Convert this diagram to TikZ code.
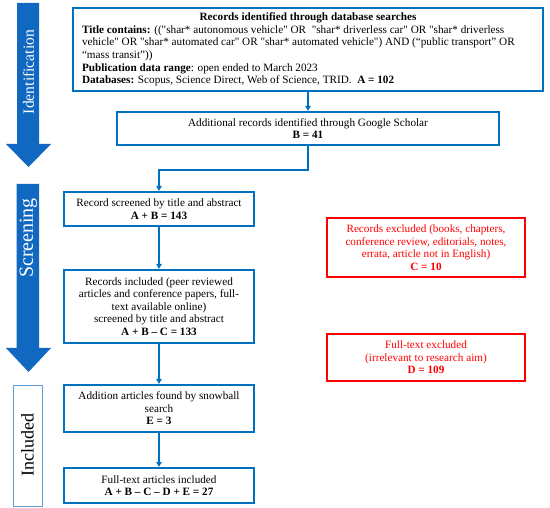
\documentclass[tikz,border=0pt]{standalone}
\usepackage{fontspec}
\setmainfont{Liberation Serif}
\usetikzlibrary{arrows.meta}
\definecolor{mblue}{HTML}{0070C0}
\definecolor{bigblue}{HTML}{1168C0}
\definecolor{lblue}{HTML}{5B9BD5}
\definecolor{mred}{HTML}{FF0000}
\begin{document}
\begin{tikzpicture}[x=1pt,y=-1pt,
  txt/.style={font=\fontsize{11.2}{12.6}\selectfont},
  box/.style={txt, draw=mblue, line width=2.2pt, align=center, inner sep=0pt},
  redbox/.style={txt, draw=mred, line width=2.2pt, text=mred, align=center, inner sep=0pt},
  conn/.style={mblue, line width=1.7pt, -{Triangle[width=5.5pt,length=5pt]}},
  bigarrow/.style={fill=bigblue},
  sidelabel/.style={rotate=90, font=\fontsize{15.6}{18}\selectfont}]
\useasboundingbox (0,0) rectangle (550,508);

% big side arrows
\fill[bigarrow] (17,3) -- (39,3) -- (39,144) -- (51,144) -- (28.5,167) -- (6,144) -- (17,144) -- cycle;
\node[sidelabel, text=white] (idlab) at (28.5,72) {Identification};
\fill[bigarrow] (16.5,184) -- (39,184) -- (39,348) -- (51,348) -- (28.5,372) -- (6,348) -- (16.5,348) -- cycle;
\node[sidelabel, text=white, font=\fontsize{20}{22}\selectfont] (scrlab) at (28.5,238) {Screening};
\node[draw=lblue, line width=0.9pt, minimum width=29pt, minimum height=121pt, inner sep=0pt] (inclbox) at (27.5,445.5) {};
\node[sidelabel, font=\fontsize{18}{20}\selectfont] (incl) at (27.5,445) {Included};

% boxes
\node[box, minimum width=470pt, minimum height=83pt] (top) at (308,49.5) {%
\begin{minipage}{452pt}\raggedright
\makebox[452pt]{\textbf{Records identified through database searches}}\\
\textbf{Title contains:} ((\textquotedbl shar* autonomous vehicle\textquotedbl\ OR \ \textquotedbl shar* driverless car\textquotedbl\ OR \textquotedbl shar* driverless\\
vehicle\textquotedbl\ OR \textquotedbl shar* automated car\textquotedbl\ OR \textquotedbl shar* automated vehicle\textquotedbl) AND (“public transport” OR\\
“mass transit”))\\
\textbf{Publication data range}: open ended to March 2023\\
\textbf{Databases:} Scopus, Science Direct, Web of Science, TRID.\ \ \textbf{A = 102}
\end{minipage}};

\node[box, minimum width=382pt, minimum height=33pt] (B) at (308,128.5) {Additional records identified through Google Scholar\\\textbf{B = 41}};

\node[box, minimum width=190pt, minimum height=34pt] (C) at (159,209) {Record screened by title and abstract\\\textbf{A + B = 143}};

\node[box, minimum width=190pt, minimum height=73pt] (D) at (159,306.5) {Records included (peer reviewed\\articles and conference papers, full-\\text available online)\\screened by title and abstract\\\textbf{A + B – C = 133}};

\node[box, minimum width=190pt, minimum height=47pt] (E) at (159,408.5) {Addition articles found by snowball\\search\\\textbf{E = 3}};

\node[box, minimum width=190pt, minimum height=35pt] (F) at (159,485.5) {Full-text articles included\\\textbf{A + B – C – D + E = 27}};

\node[redbox, minimum width=198pt, minimum height=59pt] (R1) at (426,247.5) {Records excluded (books, chapters,\\conference review, editorials, notes,\\errata, article not in English)\\\textbf{C = 10}};

\node[redbox, minimum width=198pt, minimum height=47pt] (R2) at (426,357.5) {Full-text excluded\\(irrelevant to research aim)\\\textbf{D = 109}};

% connectors
\draw[conn] (top.south) -- (B.north);
\draw[conn] (B.south) -- ++(0,24) -| (C.north);
\draw[conn] (C.south) -- (D.north);
\draw[conn] (D.south) -- (E.north);
\draw[conn] (E.south) -- (F.north);
\end{tikzpicture}
\end{document}
